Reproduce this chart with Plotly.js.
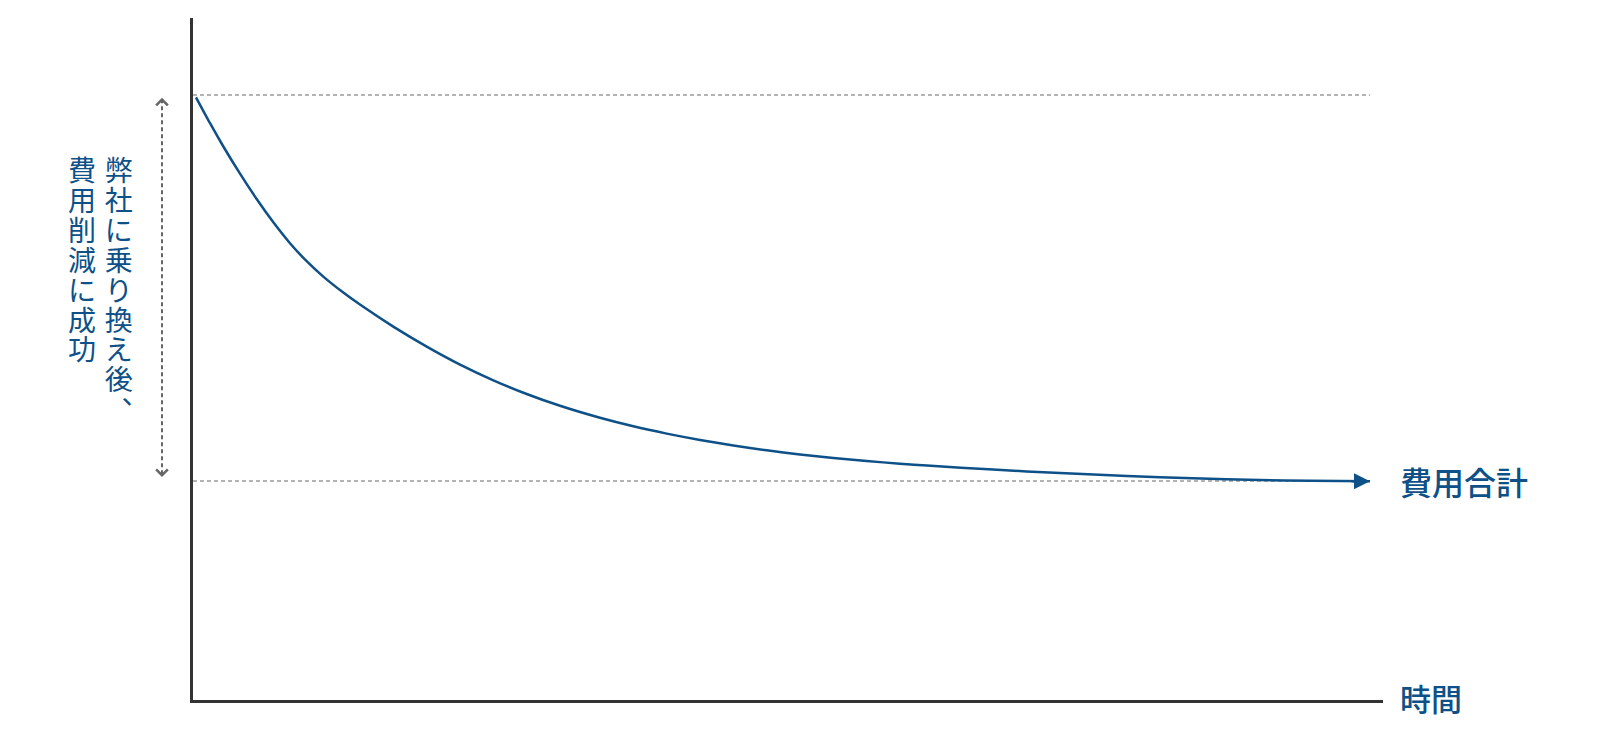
<!DOCTYPE html>
<html>
<head>
<meta charset="utf-8">
<script src="https://cdn.plot.ly/plotly-3.0.1.min.js"></script>
<style>html,body{margin:0;padding:0;background:#fff;}#chart{width:1600px;height:754px;}</style>
</head>
<body>
<div id="chart"></div>
<script>
// ---- data ----
const time = [0.25, 1.43, 2.55, 3.95, 5.35, 6.75, 8.15, 9.55, 10.95, 12.63, 14.03, 16.83, 19.64, 22.44, 25.24, 28.04, 30.84, 34.2, 37.0, 39.81, 42.61, 45.41, 48.21, 51.01, 53.81, 56.61, 59.41, 61.68, 67.23, 72.86, 78.49, 84.03, 89.66, 93.87, 98.91];
const cost = [88.37, 84.57, 81.16, 77.17, 73.45, 70.04, 66.98, 64.34, 62.08, 59.74, 57.98, 54.75, 51.82, 49.18, 46.88, 44.87, 43.14, 41.38, 40.13, 39.06, 38.12, 37.32, 36.61, 36.01, 35.5, 35.04, 34.65, 34.37, 33.78, 33.27, 32.84, 32.51, 32.24, 32.13, 32.07];
const levels = [88.7, 32.1];            // cost before / after switching
const sideText = ['弊社に乗り換え後、', '費用削減に成功'];
const curveLabel = '費用合計';
const xLabel = '時間';

const BLUE = '#0e5088';
const FONT = '"Noto Sans CJK JP", "Noto Sans", sans-serif';

const W = 1600, H = 754;
const M = {l: 193, r: 217, t: 18, b: 54};
const plotH = H - M.t - M.b, plotW = W - M.l - M.r;

const traces = [{
  x: time, y: cost, type: 'scatter', mode: 'lines',
  line: {color: BLUE, width: 2.5, shape: 'spline', smoothing: 0.6, simplify: false},
  hoverinfo: 'skip', showlegend: false
}];

const last = time.length - 1;
const shapes = levels.map(v => ({
  type: 'line', xref: 'x', yref: 'y', x0: 0, x1: time[last], y0: v, y1: v,
  line: {color: '#9a9a9a', width: 1.5, dash: '4px,3px'}, layer: 'below'
}));
// vertical dotted double arrow (left of axis)
const arrowX = (162 - M.l) / plotW;
shapes.push({
  type: 'line', xref: 'paper', yref: 'y', x0: arrowX, x1: arrowX,
  y0: levels[0] - 0.6, y1: levels[1] + 0.8,
  line: {color: '#666', width: 2, dash: '4px,3px'}
});

const annotations = [];
// curve arrowhead
annotations.push({
  x: time[last], y: cost[last], xref: 'x', yref: 'y', text: '',
  showarrow: true, arrowhead: 2, arrowsize: 1.28, arrowwidth: 2.5,
  arrowcolor: BLUE, ax: -20, ay: 0
});
// chevrons of the vertical arrow
annotations.push({
  x: arrowX, y: levels[0] - 0.4, xref: 'paper', yref: 'y', text: '',
  showarrow: true, arrowhead: 4, arrowsize: 1.5, arrowwidth: 1.5,
  arrowcolor: '#666', ax: 0, ay: 6
});
annotations.push({
  x: arrowX, y: levels[1] + 0.6, xref: 'paper', yref: 'y', text: '',
  showarrow: true, arrowhead: 4, arrowsize: 1.5, arrowwidth: 1.5,
  arrowcolor: '#666', ax: 0, ay: -6
});
// right labels
annotations.push({
  x: (1398 - M.l) / plotW, y: cost[last], xref: 'paper', yref: 'y',
  text: curveLabel, showarrow: false, xanchor: 'left', yanchor: 'middle',
  font: {family: FONT, size: 32, color: BLUE, weight: 500}
});
annotations.push({
  x: (1398 - M.l) / plotW, y: 0, xref: 'paper', yref: 'y',
  text: xLabel, showarrow: false, xanchor: 'left', yanchor: 'middle',
  font: {family: FONT, size: 31, color: BLUE, weight: 500}, yshift: 3
});
// vertical text: one character per line
const GLYPH = 'font-size:28px';
function verticalText(str) {
  return Array.from(str).map(ch => ch === '、'
    ? '<span style="' + GLYPH + '">\u3000\u2009</span><span style="' + GLYPH + ';baseline-shift:16px">' + ch + '</span>'
    : '<span style="' + GLYPH + '">' + ch + '</span>').join('<br>');
}
const colX = [118.5, 82];
const colMidY = [288, 258];
sideText.forEach((str, c) => {
  annotations.push({
    x: (colX[c] - M.l) / plotW, y: (H - M.b - colMidY[c]) / plotH,
    xref: 'paper', yref: 'paper', text: verticalText(str), showarrow: false,
    xanchor: 'center', yanchor: 'middle', align: 'center',
    font: {family: FONT, size: 23, color: BLUE}
  });
});

const layout = {
  width: W, height: H, margin: M,
  paper_bgcolor: '#fff', plot_bgcolor: '#fff',
  showlegend: false,
  xaxis: {range: [0, 100], showline: true, linewidth: 3, linecolor: '#333',
          showgrid: false, zeroline: false, showticklabels: false, ticks: '', fixedrange: true},
  yaxis: {range: [0, 100], showline: true, linewidth: 3, linecolor: '#333',
          showgrid: false, zeroline: false, showticklabels: false, ticks: '', fixedrange: true},
  shapes: shapes,
  annotations: annotations
};

Plotly.newPlot('chart', traces, layout, {displayModeBar: false, staticPlot: true});
</script>
</body>
</html>
